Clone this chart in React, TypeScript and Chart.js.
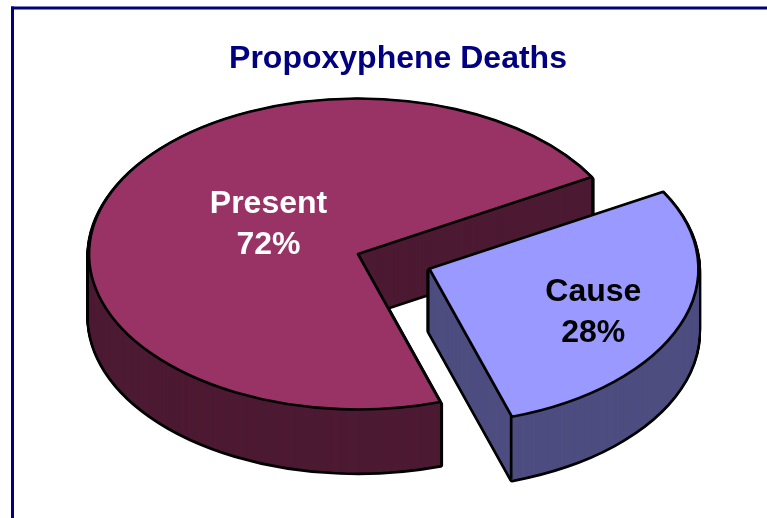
import React, { useEffect, useRef } from "react";
import { Chart, registerables } from "chart.js";

Chart.register(...registerables);

const titleText = "Propoxyphene Deaths";
const categories = ["Cause", "Present"];
const shares = [28.3, 71.7];
const topColors = ["#9999FF", "#993366"];
const wallColors = ["#4D4D80", "#4D1A33"];
const labelColors = ["#000000", "#FFFFFF"];

const FONT = '"Liberation Sans", Arial, sans-serif';
const NAVY = "#000080";
const CENTER_X = 358;
const CENTER_Y = 254;
const SQUASH = 0.578;
const DEPTH = 63;
const LINE = 2.7;
const radiusTrim = [1.5, 0];
const sliceLift = [1.3, 0];
// label centre relative to each slice's apex, in screen pixels
const labelShift = [
  { dx: 164, dy: 43 },
  { dx: -89.5, dy: -29 },
];

const pie3d = {
  id: "pie3d",
  beforeDraw(chart: any) {
    const { ctx, width, height } = chart;
    ctx.save();
    ctx.fillStyle = "#FFFFFF";
    ctx.fillRect(0, 0, width, height);
    ctx.fillStyle = NAVY;
    ctx.fillRect(11, 6.5, width - 11, 3);
    ctx.fillRect(11, 6.5, 3, height - 6.5);
    ctx.restore();
  },
  beforeDatasetsDraw(chart: any) {
    const { ctx } = chart;
    const arcs = chart.getDatasetMeta(0).data;
    const ox = arcs[0].x;
    const oy = arcs[0].y;
    // strokes happen in screen space so the outline keeps an even width
    const nativeStroke = CanvasRenderingContext2D.prototype.stroke;
    ctx.stroke = function (this: CanvasRenderingContext2D) {
      this.save();
      this.setTransform(1, 0, 0, 1, 0, 0);
      nativeStroke.call(this);
      this.restore();
    };
    const order = [1, 0];
    ctx.save();
    for (const i of order) {
      const arc = arcs[i];
      const outer = arc.outerRadius - radiusTrim[i];
      const lift = sliceLift[i];
      const place = (d: number) => {
        ctx.setTransform(1, 0, 0, SQUASH, CENTER_X - ox, d - lift + CENTER_Y - oy * SQUASH);
      };
      const paint = (over: any) => {
        const view = Object.create(arc);
        view.options = { ...arc.options, ...over };
        view.outerRadius = outer;
        arc.draw.call(view, ctx);
      };
      for (let d = DEPTH; d >= 2; d--) {
        place(d);
        paint({ backgroundColor: "#000000", borderColor: "#000000", borderWidth: LINE * 2 });
      }
      for (let d = DEPTH; d >= 0; d--) {
        place(d);
        paint({ backgroundColor: wallColors[i], borderWidth: 0 });
      }
      if (arc.options.offset) {
        const off = arc.options.offset / 4;
        const mid = (arc.startAngle + arc.endAngle) / 2;
        const px = arc.x + Math.cos(mid) * off + Math.cos(arc.endAngle) * outer;
        const py = arc.y + Math.sin(mid) * off + Math.sin(arc.endAngle) * outer;
        const sx = CENTER_X + px - ox;
        const sy = CENTER_Y - lift + (py - oy) * SQUASH;
        ctx.setTransform(1, 0, 0, 1, 0, 0);
        ctx.beginPath();
        ctx.moveTo(sx, sy);
        ctx.lineTo(sx, sy + DEPTH);
        ctx.strokeStyle = "#000000";
        ctx.lineWidth = LINE;
        ctx.stroke();
      }
      place(0);
      paint({});
    }
    ctx.restore();
    ctx.setTransform(1, 0, 0, 1, 0, 0);
    delete ctx.stroke;

    ctx.save();
    ctx.font = `bold 32px ${FONT}`;
    ctx.textAlign = "center";
    ctx.textBaseline = "middle";
    arcs.forEach((arc: any, i: number) => {
      const off = (arc.options.offset || 0) / 4;
      const mid = (arc.startAngle + arc.endAngle) / 2;
      const ax = CENTER_X + Math.cos(mid) * off;
      const ay = CENTER_Y + Math.sin(mid) * off * SQUASH;
      const x = ax + labelShift[i].dx;
      const y = ay + labelShift[i].dy;
      ctx.fillStyle = labelColors[i];
      ctx.fillText(categories[i], x, y - 20.5);
      ctx.fillText(`${Math.round(shares[i])}%`, x, y + 20.5);
    });
    ctx.restore();
    return false;
  },
};

export default function App() {
  const ref = useRef<HTMLCanvasElement>(null);
  useEffect(() => {
    const chart = new Chart(ref.current as HTMLCanvasElement, {
      type: "pie",
      data: {
        labels: categories,
        datasets: [
          {
            data: shares,
            backgroundColor: topColors,
            borderColor: "#000000",
            borderWidth: LINE,
            borderJoinStyle: "round",
            offset: [306, 0],
            radius: 269,
            clip: false,
          } as any,
        ],
      },
      options: {
        responsive: false,
        animation: false,
        rotation: 60.3,
        layout: { padding: { left: 29 } },
        plugins: {
          legend: { display: false },
          tooltip: { enabled: false },
          title: {
            display: true,
            text: titleText,
            color: NAVY,
            font: { family: FONT, size: 32, weight: "bold" },
            padding: { top: 40, bottom: 0 },
          },
        },
      },
      plugins: [pie3d],
    } as any);
    return () => chart.destroy();
  }, []);
  return (
    <div style={{ position: "absolute", left: 0, top: 0, width: 767, height: 518 }}>
      <canvas ref={ref} width={767} height={518} style={{ display: "block" }} />
    </div>
  );
}
